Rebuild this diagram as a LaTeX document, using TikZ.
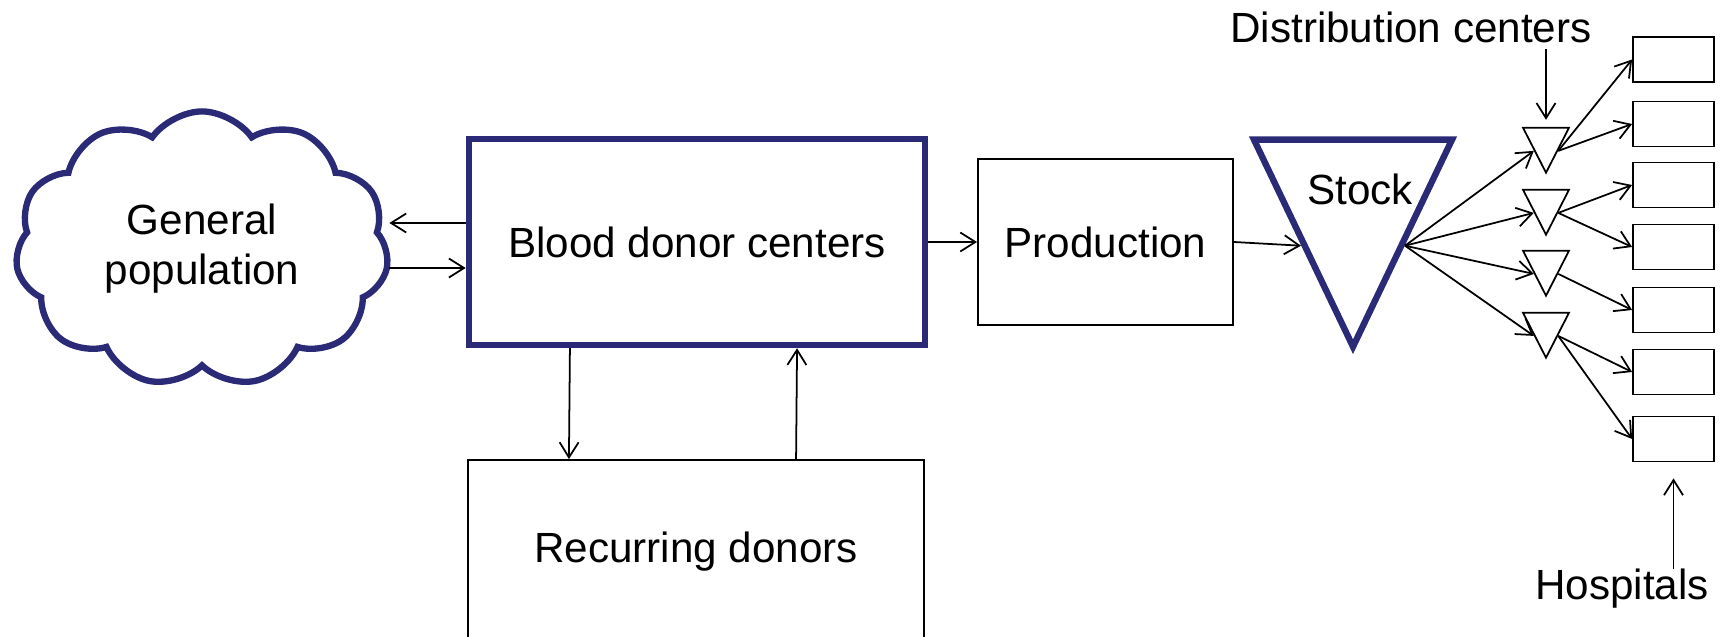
\documentclass[tikz,border=0pt]{standalone}
\usepackage{fontspec}
\setmainfont{Liberation Sans}
\usetikzlibrary{
    arrows.meta,
    shapes.geometric,
    shapes.symbols
}
\definecolor{donornavy}{RGB}{42,42,118}
\tikzset{
    % Box styles
    donor box/.style={
        draw=donornavy,
        line width=1.8pt,
        rectangle,
        minimum width=4.56cm,
        minimum height=2.06cm,
        align=center
    },
    plain box/.style={
        draw=black,
        line width=0.5pt,
        rectangle,
        align=center
    },
    hospital box/.style={
        draw=black,
        line width=0.5pt,
        rectangle,
        minimum width=0.81cm,
        minimum height=0.45cm
    },
    % Shape styles
    crowd cloud/.style={
        cloud,
        draw=donornavy,
        line width=1.8pt,
        cloud puffs=11,
        cloud puff arc=110,
        cloud ignores aspect,
        minimum width=3.73cm,
        minimum height=2.75cm,
        inner sep=0pt,
        align=center
    },
    stock triangle/.style={
        isosceles triangle,
        isosceles triangle stretches,
        shape border rotate=-90,
        draw=donornavy,
        line width=1.8pt,
        minimum width=1.98cm,
        minimum height=2.07cm,
        inner sep=0pt
    },
    depot triangle/.style={
        isosceles triangle,
        isosceles triangle stretches,
        shape border rotate=-90,
        draw=black,
        line width=0.5pt,
        minimum width=0.46cm,
        minimum height=0.45cm,
        inner sep=0pt
    },
    caption text/.style={
        inner sep=0pt
    },
    % Arrow styles
    flow arrow/.style={
        ->,
        line width=0.5pt,
        >={Straight Barb[length=4.3pt,width=5.4pt]},
        black
    }
}

\begin{document}
\begin{tikzpicture}[
        x=0.01cm, y=-0.01cm,
        every node/.style={font=\fontsize{12}{14.2}\selectfont}
    ]
    \useasboundingbox (0,0) rectangle (1721,637);
    % main chain
    \node[crowd cloud] (crowd) at (202,249) {General\\population};
    \node[donor box] (bdc) at (697,242) {Blood donor centers};
    \node[plain box, minimum width=2.55cm, minimum height=1.66cm] (prod) at (1105.5,242) {Production};
    \node[plain box, minimum width=4.56cm, minimum height=1.84cm] (rd) at (696,552) {Recurring donors};
    \node[stock triangle, anchor=apex] (stock) at (1353,355) {};
    \node[caption text] (stocktext) at (1360,189) {Stock};
    % distribution centers
    \node[depot triangle, anchor=apex] (dc1) at (1546,175) {};
    \node[depot triangle, anchor=apex] (dc2) at (1546,237) {};
    \node[depot triangle, anchor=apex] (dc3) at (1546,298) {};
    \node[depot triangle, anchor=apex] (dc4) at (1546,360) {};
    % hospitals
    \node[hospital box] (h1) at (1673.5,59.5) {};
    \node[hospital box] (h2) at (1673.5,124) {};
    \node[hospital box] (h3) at (1673.5,185) {};
    \node[hospital box] (h4) at (1673.5,247) {};
    \node[hospital box] (h5) at (1673.5,310) {};
    \node[hospital box] (h6) at (1673.5,372) {};
    \node[hospital box] (h7) at (1673.5,439) {};
    \node[caption text] (dclabel) at (1411,27) {Distribution centers};
    \node[caption text] (hosplabel) at (1622,589) {Hospitals};

    % flows
    \draw[flow arrow] ([yshift=0.19cm]bdc.west) -- ([yshift=0.19cm]bdc.west -| crowd.east);
    \draw[flow arrow] ([yshift=-0.26cm]bdc.west -| crowd.east) -- ([yshift=-0.26cm]bdc.west);
    \draw[flow arrow] (bdc) -- (prod);
    \draw[flow arrow] ([xshift=-1.27cm]bdc.south) -- ([xshift=-1.27cm]rd.north);
    \draw[flow arrow] ([xshift=1.0cm]rd.north) -- ([xshift=1.0cm]bdc.south);
    \draw[flow arrow] (prod.east) -- (stock.right side);
    \draw[flow arrow] (stock.left side) -- (dc1.right side);
    \draw[flow arrow] (stock.left side) -- (dc2.right side);
    \draw[flow arrow] (stock.left side) -- (dc3.right side);
    \draw[flow arrow] (stock.left side) -- (dc4.right side);
    \draw[flow arrow] (dc1.left side) -- (h1.west);
    \draw[flow arrow] (dc1.left side) -- (h2.west);
    \draw[flow arrow] (dc2.left side) -- (h3.west);
    \draw[flow arrow] (dc2.left side) -- (h4.west);
    \draw[flow arrow] (dc3.left side) -- (h5.west);
    \draw[flow arrow] (dc4.left side) -- (h6.west);
    \draw[flow arrow] (dc4.left side) -- (h7.west);
    \draw[flow arrow] ([yshift=-0.06cm]dclabel.south -| dc1.apex) -- ([yshift=0.07cm]dc1.lower side);
    \draw[flow arrow] (hosplabel.north -| h7.south) -- ([yshift=-0.16cm]h7.south);
\end{tikzpicture}
\end{document}
